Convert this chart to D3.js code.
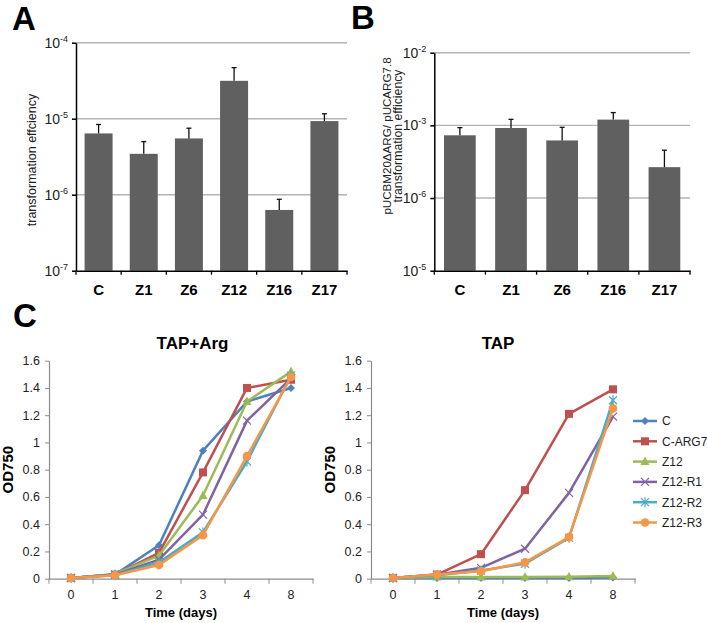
<!DOCTYPE html>
<html><head><meta charset="utf-8">
<script src="https://cdn.jsdelivr.net/npm/d3@7"></script>
<style>body{margin:0;background:#fff}svg{display:block;font-family:"Liberation Sans",Arial,sans-serif}</style>
</head><body>
<svg id="c" width="707" height="623"></svg>
<script>
// ---- Panel A data ----
const catsA = ["C","Z1","Z6","Z12","Z16","Z17"];
const valsA = [6.4e-6, 3.45e-6, 5.5e-6, 3.15e-5, 6.3e-7, 9.3e-6];
const errA  = [8.4e-6, 5.0e-6, 7.5e-6, 4.7e-5, 8.7e-7, 1.16e-5];
const ticksA = [1e-7, 1e-6, 1e-5, 1e-4];
const tickExpA = ["-7","-6","-5","-4"];
// ---- Panel B data ----
const catsB = ["C","Z1","Z6","Z16","Z17"];
const valsB = [7.3e-4, 9.2e-4, 6.2e-4, 1.2e-3, 2.66e-4];
const errB  = [9.3e-4, 1.21e-3, 9.4e-4, 1.5e-3, 4.55e-4];
const ticksB = [1e-5, 1e-4, 1e-3, 1e-2];
const tickExpB = ["-5","-6","-3","-2"];
// ---- Panel C data ----
const days = ["0","1","2","3","4","8"];
const seriesNames = ["C","C-ARG7","Z12","Z12-R1","Z12-R2","Z12-R3"];
const tapArg = [
  [0.005,0.03,0.245,0.94,1.30,1.40],
  [0.005,0.03,0.19,0.78,1.40,1.46],
  [0.005,0.035,0.17,0.61,1.30,1.52],
  [0.005,0.03,0.14,0.47,1.16,1.47],
  [0.005,0.025,0.12,0.34,0.86,1.49],
  [0.005,0.025,0.10,0.32,0.90,1.48]
];
const tap = [
  [0.005,0.005,0.005,0.005,0.005,0.008],
  [0.005,0.03,0.18,0.65,1.21,1.39],
  [0.005,0.012,0.012,0.012,0.014,0.02],
  [0.005,0.03,0.08,0.22,0.63,1.19],
  [0.005,0.025,0.06,0.11,0.30,1.31],
  [0.005,0.03,0.055,0.12,0.305,1.25]
];
const odTicks = [0,0.2,0.4,0.6,0.8,1,1.2,1.4,1.6];
const colors = ["#4F81BD","#C0504D","#9BBB59","#8064A2","#4BACC6","#F79646"];
const markers = ["diamond","square","triangle","x","star","circle"];

const svg = d3.select("#c");

function letter(t,x,y){svg.append("text").attr("x",x).attr("y",y).attr("font-size",33).attr("font-weight","bold").text(t);}
letter("A",12,30); letter("B",351,28.5); letter("C",13,327);

function barPanel(cats, vals, errs, ticks, exps, x0, x1, yTop, yBot){
  const x = d3.scaleBand().domain(cats).range([x0,x1]).paddingInner(0.38).paddingOuter(0.19);
  const y = d3.scaleLog().domain([ticks[0], ticks[ticks.length-1]]).range([yBot,yTop]);
  const g = svg.append("g");
  g.selectAll(".grid").data(ticks.slice(1)).join("line")
    .attr("x1",x0).attr("x2",x1).attr("y1",d=>y(d)).attr("y2",d=>y(d))
    .attr("stroke","#b4b4b4").attr("stroke-width",1.4);
  g.selectAll(".bar").data(cats).join("rect")
    .attr("x",d=>x(d)).attr("width",x.bandwidth())
    .attr("y",(d,i)=>y(vals[i])).attr("height",(d,i)=>yBot-y(vals[i]))
    .attr("fill","#606060");
  cats.forEach((c,i)=>{
    const cx = x(c)+x.bandwidth()/2;
    g.append("line").attr("x1",cx).attr("x2",cx).attr("y1",y(vals[i])).attr("y2",y(errs[i])).attr("stroke","#111").attr("stroke-width",1.3);
    g.append("line").attr("x1",cx-2.5).attr("x2",cx+2.5).attr("y1",y(errs[i])).attr("y2",y(errs[i])).attr("stroke","#111").attr("stroke-width",1.3);
  });
  const ya = g.append("g").attr("transform",`translate(${x0},0)`)
    .call(d3.axisLeft(y).tickValues(ticks).tickSize(4).tickSizeOuter(0).tickFormat(""));
  ya.selectAll("path,line").attr("stroke","#000").attr("stroke-width",1.5);
  ticks.forEach((t,i)=>{
    const tx = g.append("text").attr("x",x0-8).attr("y",y(t)+5).attr("text-anchor","end").attr("font-size",14).attr("fill","#222");
    tx.append("tspan").text("10");
    tx.append("tspan").attr("font-size",9).attr("dy",-6).text(exps[i]);
  });
  const xa = g.append("g").attr("transform",`translate(0,${yBot})`)
    .call(d3.axisBottom(x).tickSize(0).tickSizeOuter(0));
  xa.select("path").attr("stroke","#000").attr("stroke-width",1.5);
  xa.selectAll("text").attr("font-size",15).attr("font-weight","bold").attr("fill","#000").attr("font-family","Liberation Sans, Arial").attr("dy",0).attr("y",24.5);
  d3.range(cats.length+1).forEach(i=>{
    const bx = x0 + i*x.step();
    g.append("line").attr("x1",bx).attr("x2",bx).attr("y1",yBot).attr("y2",yBot+4).attr("stroke","#000").attr("stroke-width",1.3);
  });
  return {x,y,g};
}

barPanel(catsA, valsA, errA, ticksA, tickExpA, 76, 347, 42.7, 270.7);
svg.append("text").attr("transform","translate(36,160) rotate(-90)").attr("text-anchor","middle").attr("font-size",12.5).attr("fill","#222").text("transformation effciency");

barPanel(catsB, valsB, errB, ticksB, tickExpB, 434.3, 690, 52.7, 270.7);
svg.append("text").attr("transform","translate(390.5,136) rotate(-90)").attr("text-anchor","middle").attr("font-size",11.6).attr("fill","#222").text("pUCBM20\u0394ARG/ pUCARG7.8");
svg.append("text").attr("transform","translate(402,136) rotate(-90)").attr("text-anchor","middle").attr("font-size",12.3).attr("fill","#222").text("transformation efficiency");

function marker(g, type, cx, cy, color){
  if(type==="diamond"){
    g.append("path").attr("d",`M${cx},${cy-4}L${cx+4},${cy}L${cx},${cy+4}L${cx-4},${cy}Z`).attr("fill",color);
  } else if(type==="square"){
    g.append("rect").attr("x",cx-4).attr("y",cy-4).attr("width",8).attr("height",8).attr("fill",color);
  } else if(type==="triangle"){
    g.append("path").attr("d",`M${cx},${cy-5}L${cx+4.5},${cy+3.5}L${cx-4.5},${cy+3.5}Z`).attr("fill",color);
  } else if(type==="x"){
    g.append("path").attr("d",`M${cx-4},${cy-4}L${cx+4},${cy+4}M${cx-4},${cy+4}L${cx+4},${cy-4}`).attr("stroke",color).attr("stroke-width",1.2);
  } else if(type==="star"){
    g.append("path").attr("d",`M${cx-4},${cy-4}L${cx+4},${cy+4}M${cx-4},${cy+4}L${cx+4},${cy-4}M${cx},${cy-5}L${cx},${cy+5}`).attr("stroke",color).attr("stroke-width",1.2);
  } else {
    g.append("circle").attr("cx",cx).attr("cy",cy).attr("r",4.3).attr("fill",color);
  }
}

function linePanel(data, x0, x1, title, titleX){
  const yTop = 360.7, yBot = 578.7;
  const x = d3.scaleBand().domain(days).range([x0,x1]);
  const y = d3.scaleLinear().domain([0,1.6]).range([yBot,yTop]);
  const g = svg.append("g");
  const ya = g.append("g").attr("transform",`translate(${x0},0)`)
    .call(d3.axisLeft(y).tickValues(odTicks).tickSize(4).tickSizeOuter(0).tickFormat(d=>String(+d.toFixed(1))));
  ya.select("path").attr("stroke","#8c8c8c").attr("stroke-width",1.2);
  ya.selectAll("line").attr("stroke","#8c8c8c");
  ya.selectAll("text").attr("font-size",12.5).attr("fill","#222").attr("font-family","Liberation Sans, Arial").attr("x",-9);
  const xa = g.append("g").attr("transform",`translate(0,${yBot})`)
    .call(d3.axisBottom(x).tickSize(0).tickSizeOuter(0));
  xa.select("path").attr("stroke","#8c8c8c").attr("stroke-width",1.2);
  xa.selectAll("text").attr("font-size",12.5).attr("fill","#222").attr("font-family","Liberation Sans, Arial").attr("dy",0).attr("y",20);
  d3.range(days.length+1).forEach(i=>{
    const bx = x0 + i*x.step();
    g.append("line").attr("x1",bx).attr("x2",bx).attr("y1",yBot).attr("y2",yBot+5).attr("stroke","#8c8c8c");
  });
  const cx = d=>x(d)+x.bandwidth()/2;
  const line = d3.line().x((v,i)=>cx(days[i])).y(v=>y(v));
  data.forEach((s,k)=>{
    g.append("path").attr("d",line(s)).attr("fill","none").attr("stroke",colors[k]).attr("stroke-width",2.5).attr("stroke-linejoin","round");
    s.forEach((v,i)=>marker(g, markers[k], cx(days[i]), y(v), colors[k]));
  });
  svg.append("text").attr("x",titleX).attr("y",349).attr("text-anchor","middle").attr("font-size",17).attr("font-weight","bold").text(title);
  svg.append("text").attr("x",(x0+x1)/2).attr("y",616.5).attr("text-anchor","middle").attr("font-size",13).attr("font-weight","bold").text("Time (days)");
  svg.append("text").attr("transform",`translate(${x0-36},${(yTop+yBot)/2}) rotate(-90)`).attr("text-anchor","middle").attr("font-size",15).attr("font-weight","bold").text("OD750");
}

linePanel(tapArg, 49, 313, "TAP+Arg", 192.5);
linePanel(tap, 371, 635, "TAP", 498);

const lg = svg.append("g");
seriesNames.forEach((n,k)=>{
  const ly = 421 + k*20.3;
  lg.append("line").attr("x1",633).attr("x2",657).attr("y1",ly).attr("y2",ly).attr("stroke",colors[k]).attr("stroke-width",2.5);
  marker(lg, markers[k], 645, ly, colors[k]);
  lg.append("text").attr("x",662).attr("y",ly+4.3).attr("font-size",12).attr("fill","#222").text(n);
});
</script>
</body></html>
